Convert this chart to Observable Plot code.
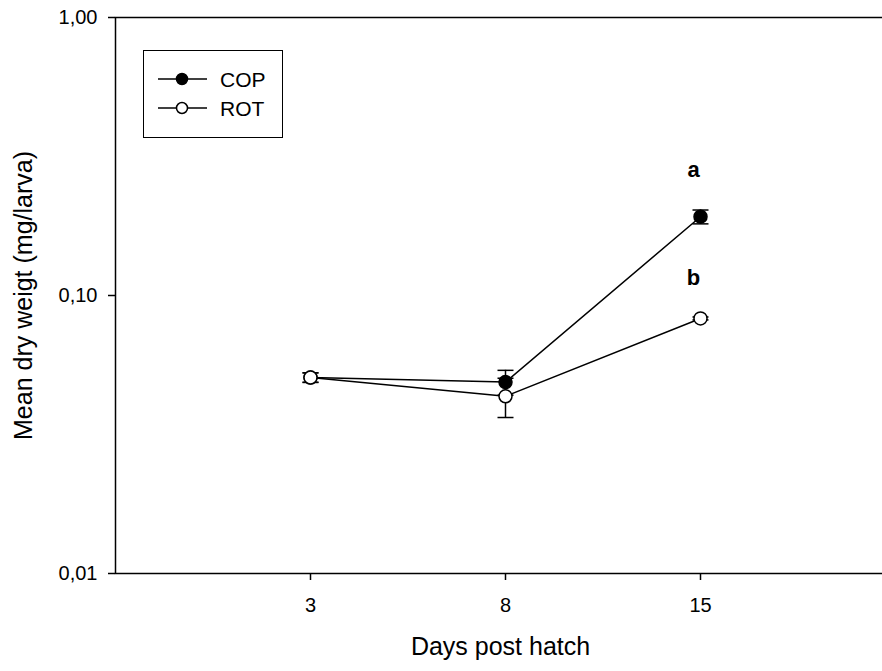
<!DOCTYPE html>
<html><head><meta charset="utf-8">
<script src="https://cdn.jsdelivr.net/npm/d3@7"></script>
<script src="https://cdn.jsdelivr.net/npm/@observablehq/plot@0.6"></script>
<style>
body{margin:0;background:#fff;}
#wrap{position:relative;width:882px;height:671px;font-family:"Liberation Sans",Arial,sans-serif;overflow:hidden;}
#legend{position:absolute;left:143px;top:50px;width:140px;height:88px;box-sizing:border-box;border:1.5px solid #000;background:#fff;}
</style></head><body><div id="wrap"></div>
<script>
const days = ["3", "8", "15"];
const seriesNames = ["COP", "ROT"];
const copMean = [0.0507, 0.0488, 0.192];
const copSE = [0.002, 0.005, 0.011];
const rotMean = [0.0507, 0.0434, 0.0827];
const rotSE = [0.002, 0.007, 0.001];
const letters = ["a", "b"];
const letterDay = ["15", "15"];
const letterY = [0.284, 0.116];
const yTicks = [0.01, 0.1, 1];
const xLabel = "Days post hatch";
const yLabel = "Mean dry weigt (mg/larva)";

const fills = {COP: "black", ROT: "white"};
const data = [];
days.forEach((d, i) => {
  data.push({day: d, series: "COP", mean: copMean[i], se: copSE[i]});
  data.push({day: d, series: "ROT", mean: rotMean[i], se: rotSE[i]});
});
const annots = letters.map((t, i) => ({t, day: letterDay[i], y: letterY[i]}));
const cap = {draw(ctx, size) { const r = Math.sqrt(size / Math.PI); ctx.moveTo(-r, 0); ctx.lineTo(r, 0); }};
const font = '"Liberation Sans", Arial, sans-serif';

const chart = Plot.plot({
  width: 882, height: 671,
  marginLeft: 115, marginTop: 17, marginRight: -3, marginBottom: 98,
  style: {fontFamily: font, fontSize: "20px", background: "white", color: "black", overflow: "hidden"},
  x: {type: "point", domain: days, range: [310, 700], padding: 0, label: null},
  y: {type: "log", domain: [0.01, 1], label: null},
  marks: [
    Plot.frame({stroke: "black", strokeWidth: 1.5}),
    Plot.axisY({ticks: yTicks, tickFormat: d => d.toFixed(2).replace(".", ","), tickSize: 7, tickPadding: 11, fontSize: 20, strokeWidth: 1.5, label: null}),
    Plot.axisX({tickSize: 7, tickPadding: 17, fontSize: 20, strokeWidth: 1.5, label: null}),
    Plot.line(data, {x: "day", y: "mean", z: "series", stroke: "black", strokeWidth: 1.5}),
    Plot.ruleX(data, {x: "day", y1: d => d.mean - d.se, y2: d => d.mean + d.se, stroke: "black", strokeWidth: 1.5}),
    Plot.dot(data, {x: "day", y: d => d.mean - d.se, symbol: cap, r: 8, stroke: "black", strokeWidth: 1.5, fill: "none"}),
    Plot.dot(data, {x: "day", y: d => d.mean + d.se, symbol: cap, r: 8, stroke: "black", strokeWidth: 1.5, fill: "none"}),
    Plot.dot(data, {filter: d => d.series === "COP", x: "day", y: "mean", r: 6.5, fill: fills.COP, stroke: "black", strokeWidth: 1.5}),
    Plot.dot(data, {filter: d => d.series === "ROT", x: "day", y: "mean", r: 6.5, fill: fills.ROT, stroke: "black", strokeWidth: 1.5}),
    Plot.text(annots, {x: "day", y: "y", text: "t", fontWeight: "bold", fontSize: 22, dx: -7}),
    Plot.text([yLabel], {frameAnchor: "left", textAnchor: "middle", dx: -92, rotate: -90, fontSize: 25, text: d => d}),
    Plot.text([xLabel], {frameAnchor: "bottom", textAnchor: "middle", dy: 81, fontSize: 25, text: d => d})
  ]
});
const wrap = document.getElementById("wrap");
wrap.appendChild(chart);

// legend
const leg = document.createElement("div");
leg.id = "legend";
const ns = "http://www.w3.org/2000/svg";
const svg = document.createElementNS(ns, "svg");
svg.setAttribute("width", 140); svg.setAttribute("height", 88);
svg.style.position = "absolute"; svg.style.left = "-1.5px"; svg.style.top = "-1.5px";
seriesNames.forEach((s, i) => {
  const yy = 29 + i * 29;
  const ln = document.createElementNS(ns, "line");
  ln.setAttribute("x1", 15); ln.setAttribute("x2", 64); ln.setAttribute("y1", yy); ln.setAttribute("y2", yy);
  ln.setAttribute("stroke", "black"); ln.setAttribute("stroke-width", 1.5);
  svg.appendChild(ln);
  const c = document.createElementNS(ns, "circle");
  c.setAttribute("cx", 39); c.setAttribute("cy", yy); c.setAttribute("r", 5.5);
  c.setAttribute("fill", fills[s]); c.setAttribute("stroke", "black"); c.setAttribute("stroke-width", 1.5);
  svg.appendChild(c);
  const t = document.createElementNS(ns, "text");
  t.setAttribute("x", 77); t.setAttribute("y", yy); t.setAttribute("dy", "0.36em");
  t.setAttribute("font-size", 21); t.setAttribute("font-family", font);
  t.textContent = s;
  svg.appendChild(t);
});
leg.appendChild(svg);
wrap.appendChild(leg);
</script></body></html>
